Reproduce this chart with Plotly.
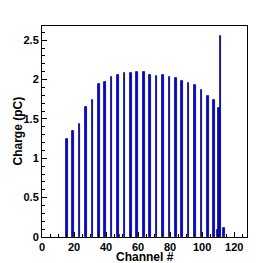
import plotly.graph_objects as go

channels = [15, 19, 23, 27, 31, 35, 39, 43, 47, 48, 51, 55, 59, 63, 67, 71, 75, 79, 83, 87, 91, 95, 99, 103, 107, 109, 110, 111, 113]
charge = [1.25, 1.35, 1.44, 1.65, 1.74, 1.94, 1.97, 2.03, 2.06, 0.03, 2.085, 2.08, 2.10, 2.10, 2.06, 2.05, 2.06, 2.03, 2.02, 1.98, 1.95, 1.93, 1.87, 1.79, 1.74, 0.09, 1.64, 2.55, 0.12]

x_title = "Channel #"
y_title = "Charge (pC)"
x_ticks = [0, 20, 40, 60, 80, 100, 120]
y_ticks = [0, 0.5, 1, 1.5, 2, 2.5]
y_tick_text = ["0", "0.5", "1", "1.5", "2", "2.5"]

fig = go.Figure()
fig.add_trace(go.Bar(
    x=[c + 0.5 for c in channels], y=charge, width=1.0,
    marker=dict(color="#0000ff", line=dict(color="#00006e", width=0.8)),
))

# page body has an 8px default margin, so the figure is offset by 8px
fig.update_layout(
    width=266, height=255,
    margin=dict(l=34, r=27, t=18, b=26, autoexpand=False),
    plot_bgcolor="white", paper_bgcolor="white",
    showlegend=False,
    bargap=0,
    font=dict(family="Liberation Sans, Arial, sans-serif", size=11, color="black"),
    xaxis=dict(
        range=[0, 128], showgrid=False, zeroline=False,
        showline=True, mirror=True, linecolor="black", linewidth=1,
        ticks="inside", ticklen=5, tickcolor="black", tickwidth=1,
        tickmode="array", tickvals=x_ticks,
        ticktext=["<b>%d</b>" % t for t in x_ticks],
        minor=dict(dtick=5, ticklen=3, ticks="inside", tickcolor="black"),
        tickfont=dict(size=11),
    ),
    yaxis=dict(
        range=[0, 2.68], showgrid=False, zeroline=False,
        showline=True, mirror=True, linecolor="black", linewidth=1,
        ticks="inside", ticklen=5, tickcolor="black", tickwidth=1,
        tickmode="array", tickvals=y_ticks,
        ticktext=["<b>%s</b>" % t for t in y_tick_text],
        minor=dict(dtick=0.1, ticklen=3, ticks="inside", tickcolor="black"),
        tickfont=dict(size=11),
    ),
)
fig.add_annotation(text="<b>" + x_title + "</b>", xref="paper", yref="paper", x=0.5, y=0,
                   yshift=-20, showarrow=False, font=dict(size=12), yanchor="middle")
fig.add_annotation(text="<b>" + y_title + "</b>", xref="paper", yref="paper", x=0, y=0.5,
                   xshift=-25, showarrow=False, font=dict(size=12), textangle=-90, xanchor="center")

fig.write_html("out.html")
